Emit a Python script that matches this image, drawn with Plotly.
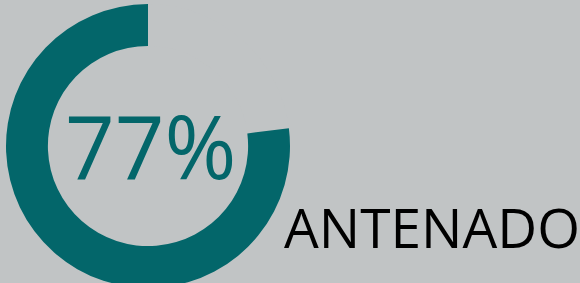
import plotly.graph_objects as go

# Data
labels = ["Restante", "ANTENADO"]
values = [23, 77]
center_label = "77%"
category_label = "ANTENADO"

TEAL = "#03666A"
BG = "#C1C4C5"

W, H = 580, 288

fig = go.Figure()
fig.add_trace(go.Pie(
    labels=labels,
    values=values,
    hole=0.705,
    sort=False,
    direction="clockwise",
    rotation=0,
    marker=dict(colors=[BG, TEAL], line=dict(width=0)),
    textinfo="none",
    hoverinfo="skip",
    showlegend=False,
    domain=dict(x=[6 / W, 290 / W], y=[0, 1]),
))

fig.add_annotation(
    x=150 / W, y=1 - 143 / H, xref="paper", yref="paper",
    text=center_label, showarrow=False,
    xanchor="center", yanchor="middle",
    font=dict(family="Open Sans", size=87, color=TEAL),
)
fig.add_annotation(
    x=282 / W, y=1 - 226 / H, xref="paper", yref="paper",
    text=category_label, showarrow=False,
    xanchor="left", yanchor="middle",
    font=dict(family="Open Sans", size=55, color="#000000"),
)

fig.update_layout(
    width=W, height=H, autosize=False,
    margin=dict(l=0, r=0, t=4, b=0),
    paper_bgcolor=BG, plot_bgcolor=BG,
)

fig.write_html(
    "out.html",
    config={"displayModeBar": False},
    post_script="document.body.style.margin='0';document.body.style.overflow='hidden';document.body.style.background='" + BG + "';",
)
